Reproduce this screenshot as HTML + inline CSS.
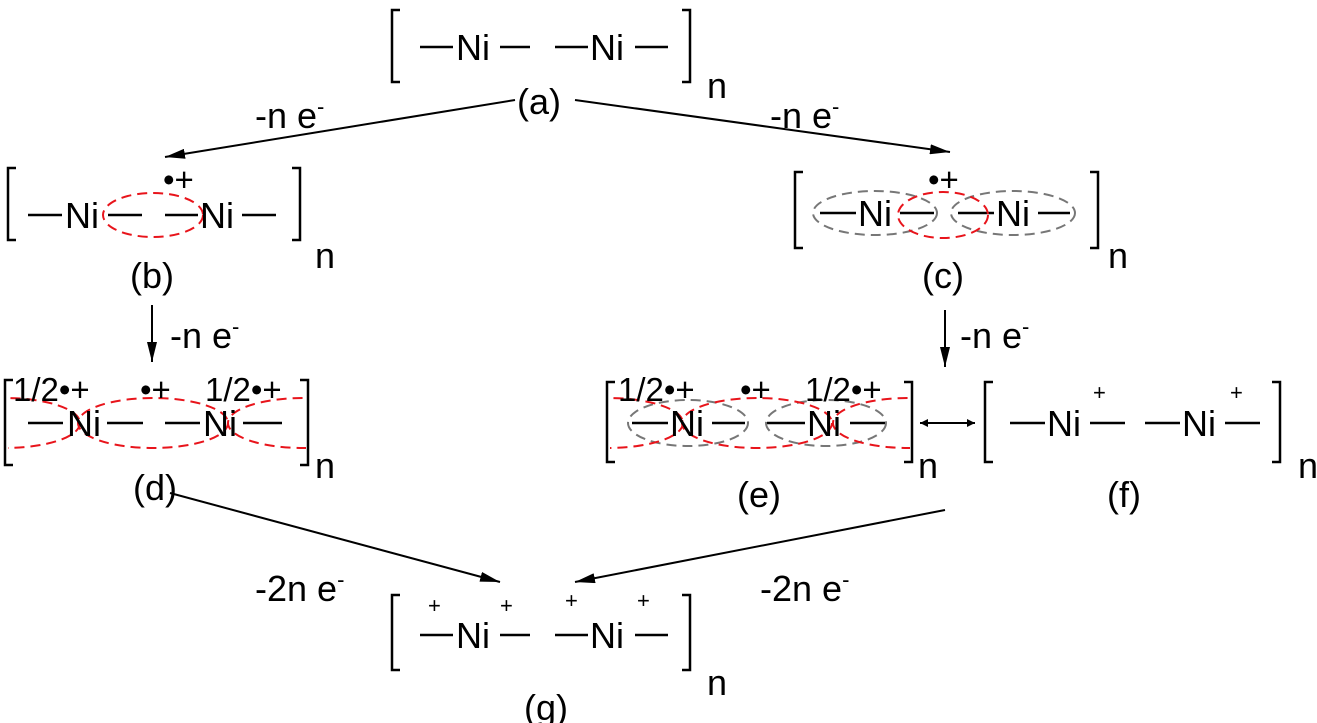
<!DOCTYPE html>
<html><head><meta charset="utf-8"><style>
html,body{margin:0;padding:0;background:#fff}
svg{display:block}
text{font-family:"Liberation Sans",Arial,sans-serif;fill:#000}
</style></head><body>
<svg width="1317" height="723" viewBox="0 0 1317 723" xmlns="http://www.w3.org/2000/svg">
<defs>
<marker id="ah" viewBox="0 0 10 10" refX="10" refY="5" markerWidth="10" markerHeight="8" orient="auto-start-reverse" markerUnits="userSpaceOnUse"><path d="M0,0 L10,5 L0,10 z" fill="#000"/></marker>
<marker id="ah2" viewBox="0 0 20 10" refX="20" refY="5" markerWidth="20" markerHeight="10" orient="auto-start-reverse" markerUnits="userSpaceOnUse"><path d="M0,0 L20,5 L0,10 z" fill="#000"/></marker>
<clipPath id="cd"><rect x="8" y="380" width="298" height="90"/></clipPath>
<clipPath id="ce"><rect x="610" y="380" width="300" height="90"/></clipPath>
</defs>
<g stroke="#000" stroke-width="2.5" fill="none">
<path d="M400,10 H392 V82 H400"/><path d="M682,10 H690 V82 H682"/>
<path d="M420,47 H453 M500,47 H530 M555,47 H588 M635,47 H668"/>
<path d="M16,168 H8 V240 H16"/><path d="M292,168 H300 V240 H292"/>
<path d="M28,215 H62 M108,215 H142 M165,215 H198 M242,215 H276"/>
<path d="M803,172 H795 V248 H803"/><path d="M1090,172 H1098 V248 H1090"/>
<path d="M820,213 H856 M900,213 H934 M958,213 H994 M1038,213 H1070"/>
<path d="M13,380 H5 V465 H13"/><path d="M300,380 H308 V465 H300"/>
<path d="M28,423 H63 M107,423 H143 M165,423 H200 M243,423 H282"/>
<path d="M615,382 H607 V462 H615"/><path d="M904,382 H912 V462 H904"/>
<path d="M632,423 H668 M712,423 H745 M767,423 H805 M850,423 H885"/>
<path d="M993,382 H985 V462 H993"/><path d="M1272,382 H1280 V462 H1272"/>
<path d="M1010,423 H1045 M1090,423 H1125 M1145,423 H1180 M1225,423 H1260"/>
<path d="M400,595 H392 V670 H400"/><path d="M682,595 H690 V670 H682"/>
<path d="M420,635 H453 M500,635 H530 M555,635 H588 M635,635 H668"/>
</g>
<g stroke="#000" stroke-width="2" fill="none">
<line x1="515" y1="100" x2="165" y2="157" marker-end="url(#ah2)"/>
<line x1="575" y1="100" x2="950" y2="152" marker-end="url(#ah2)"/>
<line x1="152" y1="305" x2="152" y2="362" marker-end="url(#ah2)"/>
<line x1="945" y1="310" x2="945" y2="367" marker-end="url(#ah2)"/>
<line x1="920" y1="423" x2="975" y2="423" marker-start="url(#ah)" marker-end="url(#ah)"/>
<line x1="170" y1="493" x2="500" y2="582" marker-end="url(#ah2)"/>
<line x1="945" y1="510" x2="575" y2="582" marker-end="url(#ah2)"/>
</g>
<g fill="none" stroke-width="2" stroke-dasharray="10,6">
<ellipse cx="153" cy="215" rx="50" ry="22" stroke="#e8141b"/>
<ellipse cx="875" cy="213" rx="62" ry="22" stroke="#777"/>
<ellipse cx="1013" cy="213" rx="62" ry="22" stroke="#777"/>
<ellipse cx="943" cy="215" rx="45" ry="23" stroke="#e8141b"/>
<g clip-path="url(#cd)" stroke="#e8141b">
<ellipse cx="153" cy="423" rx="75" ry="25"/>
<ellipse cx="5" cy="423" rx="75" ry="25"/>
<ellipse cx="303" cy="423" rx="75" ry="25"/>
</g>
<ellipse cx="688" cy="423" rx="60" ry="23" stroke="#777"/>
<ellipse cx="826" cy="423" rx="60" ry="23" stroke="#777"/>
<g clip-path="url(#ce)" stroke="#e8141b">
<ellipse cx="757" cy="423" rx="75" ry="25"/>
<ellipse cx="608" cy="423" rx="75" ry="25"/>
<ellipse cx="908" cy="423" rx="75" ry="25"/>
</g>
</g>
<g font-size="36">
<text x="456" y="60">Ni</text><text x="590" y="60">Ni</text>
<text x="65" y="228">Ni</text><text x="200" y="228">Ni</text>
<text x="858" y="226">Ni</text><text x="996" y="226">Ni</text>
<text x="67" y="436">Ni</text><text x="203" y="436">Ni</text>
<text x="670" y="436">Ni</text><text x="807" y="436">Ni</text>
<text x="1047" y="436">Ni</text><text x="1182" y="436">Ni</text>
<text x="456" y="648">Ni</text><text x="590" y="648">Ni</text>
<text x="517" y="114">(a)</text>
<text x="130" y="288">(b)</text>
<text x="922" y="288">(c)</text>
<text x="133" y="500">(d)</text>
<text x="737" y="507">(e)</text>
<text x="1107" y="507">(f)</text>
<text x="524" y="720">(g)</text>
<text x="255" y="128">-n e<tspan font-size="22" dy="-14">-</tspan></text>
<text x="770" y="128">-n e<tspan font-size="22" dy="-14">-</tspan></text>
<text x="170" y="348">-n e<tspan font-size="22" dy="-14">-</tspan></text>
<text x="960" y="348">-n e<tspan font-size="22" dy="-14">-</tspan></text>
<text x="255" y="601">-2n e<tspan font-size="22" dy="-14">-</tspan></text>
<text x="760" y="601">-2n e<tspan font-size="22" dy="-14">-</tspan></text>
<text x="707" y="98">n</text><text x="315" y="268">n</text><text x="1108" y="268">n</text>
<text x="315" y="478">n</text><text x="918" y="478">n</text><text x="1298" y="478">n</text>
<text x="707" y="695">n</text>
</g>
<g font-size="33">
<text x="163" y="191">•+</text>
<text x="928" y="191">•+</text>
<text x="13" y="401">1/2•+</text><text x="140" y="401">•+</text><text x="205" y="401">1/2•+</text>
<text x="618" y="401">1/2•+</text><text x="740" y="401">•+</text><text x="805" y="401">1/2•+</text>
</g>
<g font-size="22">
<text x="1093" y="400">+</text><text x="1230" y="400">+</text>
<text x="428" y="613">+</text><text x="500" y="613">+</text><text x="565" y="608">+</text><text x="637" y="608">+</text>
</g>
</svg>
</body></html>
